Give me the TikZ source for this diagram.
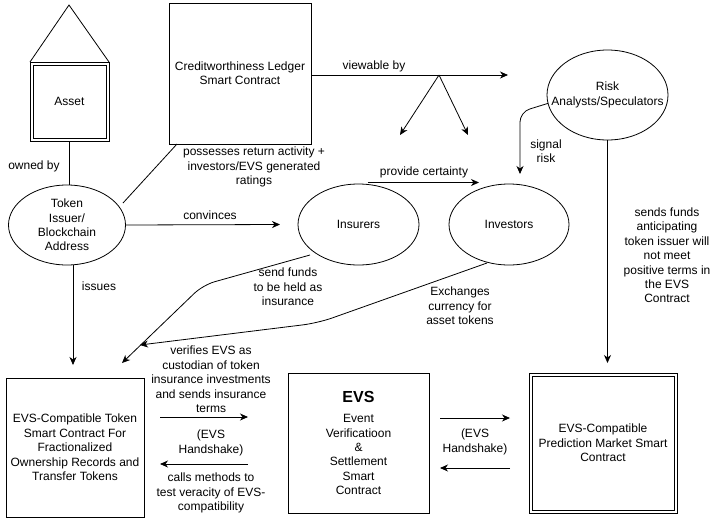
\documentclass[tikz,border=0pt]{standalone}
\usepackage{fontspec}
\setmainfont{Liberation Sans}
\usetikzlibrary{shapes.geometric,arrows.meta,calc}
\begin{document}
\begin{tikzpicture}[x=1pt,y=-1pt,
  every node/.style={font=\fontsize{12}{14.4}\selectfont, align=center, inner sep=0pt, outer sep=0pt},
  ln/.style={line width=0.8pt},
  arr/.style={ln, -{Stealth[length=8pt,width=7pt,inset=2.5pt]}},
  rbox/.style={draw, ln, rectangle},
  ell/.style={draw, ln, ellipse},
]
\useasboundingbox[fill=white] (0,0) rectangle (717,525);

% nodes
\node[rbox, minimum width=79pt, minimum height=79pt] (asset) at (69.5,101.5) {Asset};
\draw[ln] ($(asset.north west)+(3,3)$) rectangle ($(asset.south east)+(-3,-3)$);
\coordinate (apex) at (69,5);
\draw[ln] (asset.north west) -- (apex) -- (asset.north east);

\node[ell, minimum width=117pt, minimum height=80pt] (tok) at (67,225) {};
\node at (tok.center) {Token\\Issuer/\\Blockchain\\Address};

\node[rbox, minimum width=142pt, minimum height=141pt] (led) at (240,73.5) {Creditworthiness Ledger\\Smart Contract};

\node[ell, minimum width=121pt, minimum height=90pt] (risk) at (607.5,95) {};
\node at (risk.center) {Risk\\Analysts/Speculators};

\node[ell, minimum width=121pt, minimum height=81pt] (ins) at (358.5,224.5) {};
\node at (ins.center) {Insurers};

\node[ell, minimum width=120pt, minimum height=81pt] (inv) at (509,224.5) {};
\node at (inv.center) {Investors};

\node[rbox, minimum width=138pt, minimum height=139pt] (tb) at (75,447.5) {EVS-Compatible Token\\Smart Contract For\\Fractionalized\\Ownership Records and\\Transfer Tokens};

\node[rbox, minimum width=141pt, minimum height=140pt] (evs) at (358.5,443) {{\fontsize{16}{19}\selectfont\bfseries EVS}\\[6pt]Event\\Verificatioon\\\&\\Settlement\\Smart\\Contract};

\node[rbox, minimum width=148pt, minimum height=140pt] (pm) at (603,443) {EVS-Compatible\\Prediction Market Smart\\Contract};
\draw[ln] ($(pm.north west)+(3,3)$) rectangle ($(pm.south east)+(-3,-3)$);

% free-end coordinates
\coordinate (convEnd) at ($(ins.west)+(-18,0)$);
\coordinate (viewStart) at ($(led.east)+(0,1.5)$);
\coordinate (viewEnd) at (508,75);
\coordinate (fork) at (439,75);
\coordinate (forkL) at (400,135);
\coordinate (forkR) at (468,135);
\coordinate (sigBend) at (520,112);
\coordinate (sigEnd) at (520,174);
\coordinate (insStart) at ($(ins.center)+(-48.5,30.5)$);
\coordinate (insBend) at (203,285);
\coordinate (insEnd) at ($(tb.north east)+(-22,-15)$);
\coordinate (invStart) at ($(inv.center)+(-22,38.5)$);
\coordinate (invBend) at (318,323);
\coordinate (invEnd) at ($(tb.north east)+(-4,-33)$);
\coordinate (hs1a) at (160,417);
\coordinate (hs1b) at (248,417);
\coordinate (hs2a) at (248,464);
\coordinate (hs2b) at (160,464);
\coordinate (hs3a) at (440,418);
\coordinate (hs3b) at (510,418);
\coordinate (hs4a) at (510,468);
\coordinate (hs4b) at (440,468);

% connectors
\draw[ln] (asset.south) -- (asset.south |- tok.north);
\node at (34,166) {owned by};

\draw[ln] ($(tok.center)+(56,-22)$) -- ($(led.south west)+(8,0)$);
\node at (254,167) {possesses return activity +\\investors/EVS generated\\ratings};

\draw[arr] (tok.east) -- (convEnd);
\node at (210,215) {convinces};

\draw[arr] (viewStart) -- (viewEnd);
\node at (374,66) {viewable by};
\draw[arr] (fork) -- (forkL);
\draw[arr] (fork) -- (forkR);

\draw[arr, rounded corners=10pt] (risk.188) -- (sigBend) -- (sigEnd);
\node at (546,151.5) {signal\\risk};

\draw[arr] ($(ins.north)+(9,-1.5)$) -- ($(inv.north)+(-30,-1.5)$);
\node at (424,172) {provide certainty};

\draw[arr] (risk.south) -- ($(risk.south |- pm.north)+(0,-10)$);
\node at (667,255.5) {sends funds\\anticipating\\token issuer will\\not meet\\positive terms in\\the EVS\\Contract};

\draw[arr] ($(tok.south)+(6,0)$) -- ($(tb.north)+(-2,-13)$);
\node at (99,286) {issues};

\draw[arr, rounded corners=12pt] (insStart) -- (insBend) -- (insEnd);
\node at (288,287) {send funds\\to be held as\\insurance};

\draw[arr, rounded corners=15pt] (invStart) -- (invBend) -- (invEnd);
\node at (460,306) {Exchanges\\currency for\\asset tokens};

\draw[arr] (hs1a) -- (hs1b);
\draw[arr] (hs2a) -- (hs2b);
\node at (211,379.5) {verifies EVS as\\custodian of token\\insurance investments\\and sends insurance\\terms};
\node at (211,443) {(EVS\\Handshake)};
\node at (211,493) {calls methods to\\test veracity of EVS-\\compatibility};

\draw[arr] (hs3a) -- (hs3b);
\draw[arr] (hs4a) -- (hs4b);
\node at (475,442) {(EVS\\Handshake)};
\end{tikzpicture}
\end{document}
